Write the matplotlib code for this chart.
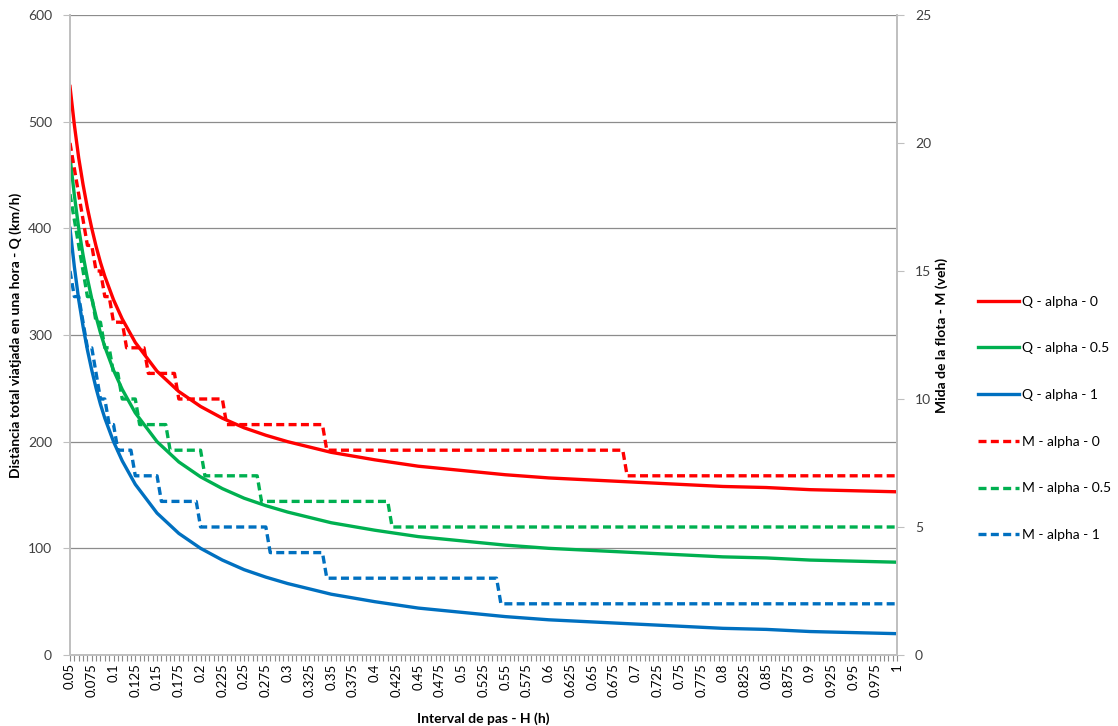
import matplotlib
matplotlib.use("Agg")
import matplotlib.pyplot as plt
import numpy as np
from matplotlib.ticker import FixedLocator, MultipleLocator

plt.rcParams['font.family'] = ['Lato', 'DejaVu Sans']

# Headway categories (h), one every 0.005 h
h_step = 0.005
h_values = np.round(np.arange(0.05, 1.0 + h_step / 2, h_step), 3)

# Distance travelled in one hour Q (km/h), read at selected headways
h_q = [0.05, 0.055, 0.06, 0.065, 0.07, 0.075, 0.08, 0.085, 0.09, 0.1, 0.11,
       0.125, 0.15, 0.175, 0.2, 0.225, 0.25, 0.275, 0.3, 0.35, 0.4, 0.45,
       0.5, 0.55, 0.6, 0.65, 0.7, 0.75, 0.8, 0.85, 0.9, 0.95, 1.0]
q_alpha_0 = [533, 497, 466, 441, 419, 400, 383, 368, 355, 333, 315, 293, 266,
             247, 233, 222, 213, 206, 200, 190, 183, 177, 173, 169, 166, 164,
             162, 160, 158, 157, 155, 154, 153]
q_alpha_05 = [467, 431, 400, 375, 353, 334, 317, 302, 289, 267, 249, 227, 200,
              181, 167, 156, 147, 140, 134, 124, 117, 111, 107, 103, 100, 98,
              96, 94, 92, 91, 89, 88, 87]
q_alpha_1 = [400, 364, 333, 308, 286, 267, 250, 235, 222, 200, 182, 160, 133,
             114, 100, 89, 80, 73, 67, 57, 50, 44, 40, 36, 33, 31, 29, 27, 25,
             24, 22, 21, 20]

# Fleet size M (veh): each level and how many consecutive headways keep it
m_levels_0 = [20, 19, 18, 17, 16, 15, 14, 13, 12, 11, 10, 9, 8, 7]
m_counts_0 = [1, 1, 1, 1, 2, 2, 2, 3, 5, 7, 11, 23, 69, 63]
m_levels_05 = [18, 17, 16, 15, 14, 13, 12, 11, 10, 9, 8, 7, 6, 5]
m_counts_05 = [1, 1, 1, 1, 2, 2, 2, 2, 4, 7, 8, 13, 30, 117]
m_levels_1 = [15, 14, 13, 12, 11, 10, 9, 8, 7, 6, 5, 4, 3, 2]
m_counts_1 = [1, 2, 1, 2, 1, 2, 2, 4, 6, 9, 16, 13, 40, 92]

m_alpha_0 = np.repeat(m_levels_0, m_counts_0)
m_alpha_05 = np.repeat(m_levels_05, m_counts_05)
m_alpha_1 = np.repeat(m_levels_1, m_counts_1)

RED, GREEN, BLUE = '#FF0000', '#00B050', '#0070C0'
GRID = '#8C8C8C'
AXIS = '#BFBFBF'
dash = (2.4, 1.3)

fig = plt.figure(figsize=(11.18, 7.26), dpi=100)
ax = fig.add_axes([70 / 1118, 71 / 726, 827 / 1118, 640 / 726])
ax2 = ax.twinx()

l1, = ax.plot(h_q, q_alpha_0, color=RED, lw=2.4, label='Q - alpha - 0')
l2, = ax.plot(h_q, q_alpha_05, color=GREEN, lw=2.4, label='Q - alpha - 0.5')
l3, = ax.plot(h_q, q_alpha_1, color=BLUE, lw=2.4, label='Q - alpha - 1')

l4, = ax2.plot(h_values, m_alpha_0, color=RED, lw=2.4, dashes=dash,
               label='M - alpha - 0')
l5, = ax2.plot(h_values, m_alpha_05, color=GREEN, lw=2.4, dashes=dash,
               label='M - alpha - 0.5')
l6, = ax2.plot(h_values, m_alpha_1, color=BLUE, lw=2.4, dashes=dash,
               label='M - alpha - 1')

ax.set_xlim(0.05, 1.0)
ax.set_ylim(0, 600)
ax2.set_ylim(0, 25)

# x axis: a label every 0.025, a tick mark at every category
major = np.round(np.arange(0.05, 1.0 + 0.0125, 0.025), 3)
ax.xaxis.set_major_locator(FixedLocator(major))
ax.xaxis.set_minor_locator(FixedLocator(h_values))
ax.set_xticklabels([f'{v:g}' for v in major], rotation=90)
ax.yaxis.set_major_locator(MultipleLocator(100))
ax2.yaxis.set_major_locator(MultipleLocator(5))

ax.yaxis.grid(True, color=GRID, lw=0.9)
ax.set_axisbelow(True)

for a in (ax, ax2):
    a.spines['top'].set_visible(False)
    for s in ('left', 'right', 'bottom'):
        a.spines[s].set_color(AXIS)
        a.spines[s].set_linewidth(1.2)

ax.tick_params(axis='x', which='both', direction='out', length=4,
               color=GRID, width=0.8, labelsize=9.5, pad=2)
ax.tick_params(axis='y', direction='out', length=5, color=AXIS,
               labelsize=10, pad=8, labelcolor='#404040')
ax2.tick_params(axis='y', direction='out', length=5, color=AXIS,
                labelsize=10, pad=8, labelcolor='#404040')

ax.set_xlabel('Interval de pas - H (h)', fontsize=10, fontweight='bold',
              labelpad=11)
ax.set_ylabel('Distància total viatjada en una hora - Q (km/h)', fontsize=10,
              fontweight='bold', labelpad=4)
ax2.set_ylabel('Mida de la flota - M (veh)', fontsize=10, fontweight='bold',
               labelpad=3)

fig.legend(handles=[l1, l2, l3, l4, l5, l6], loc='upper left',
           bbox_to_anchor=(965 / 1118, 1 - 283 / 726), frameon=False,
           fontsize=10, handlelength=3.0, handletextpad=0.2,
           labelspacing=2.5)

fig.savefig('out.png', dpi=100)
